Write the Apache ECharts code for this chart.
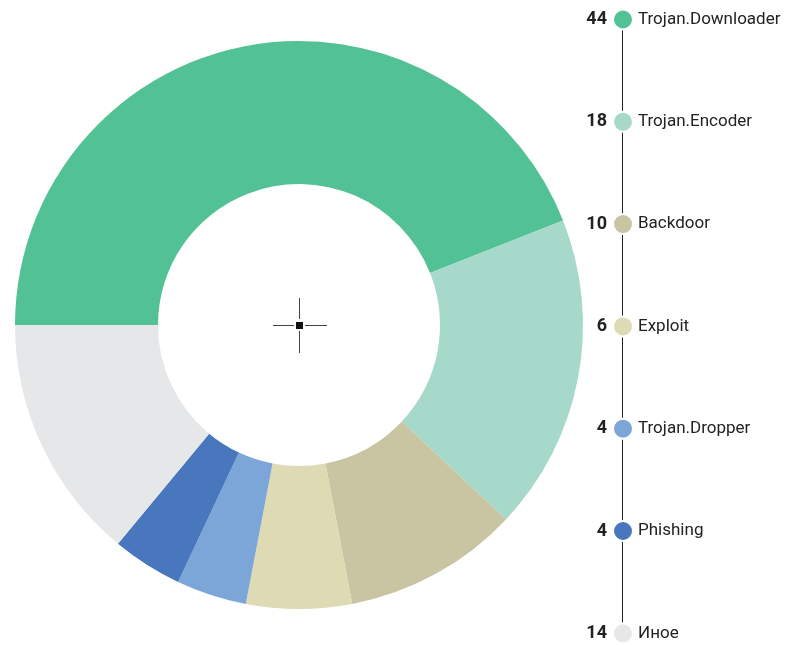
<!DOCTYPE html>
<html>
<head>
<meta charset="utf-8">
<script src="https://cdn.jsdelivr.net/npm/echarts@6/dist/echarts.min.js"></script>
<style>
  html, body { margin: 0; padding: 0; background: #fff; }
  #chart { width: 805px; height: 645px; }
</style>
</head>
<body>
<div id="chart"></div>
<script>
const names = ["Trojan.Downloader", "Trojan.Encoder", "Backdoor", "Exploit", "Trojan.Dropper", "Phishing", "Иное"];
const values = [44, 18, 10, 6, 4, 4, 14];
const colors = ["#52c195", "#a7d9ca", "#c9c5a3", "#dedab3", "#7da6d8", "#4877bd", "#e6e7e9"];

var chart = echarts.init(document.getElementById("chart"));

const pieData = names.map((n, i) => ({
  name: n,
  value: values[i],
  itemStyle: { color: colors[i] },
}));

const fontFamily = "Roboto, 'Noto Sans', sans-serif";

const option = {
  animation: false,
  legend: [
    {
      data: names,
      orient: "vertical",
      left: 612,
      top: 8.5,
      height: 640,
      padding: 0,
      itemWidth: 20,
      itemHeight: 20,
      itemGap: 80.3,
      icon: "circle",
      selectedMode: false,
      itemStyle: { borderColor: "#fff", borderWidth: 2 },
      textStyle: { fontFamily: fontFamily, fontSize: 17, lineHeight: 18, color: "#222" },
    },
    {
      data: names,
      orient: "vertical",
      align: "right",
      right: 173,
      top: 9.5,
      height: 636,
      padding: 0,
      itemWidth: 20,
      itemHeight: 20,
      itemGap: 82.3,
      icon: "circle",
      selectedMode: false,
      itemStyle: { opacity: 0 },
      formatter: function (name) {
        return String(values[names.indexOf(name)]);
      },
      textStyle: {
        fontFamily: fontFamily,
        fontSize: 18,
        lineHeight: 18,
        fontWeight: "bold",
        color: "#222",
      },
    },
  ],
  graphic: [
    {
      type: "line",
      z: -1,
      shape: { x1: 622.5, y1: 19, x2: 622.5, y2: 632 },
      style: { stroke: "#222", lineWidth: 1 },
    },
    // crosshair in the middle
    { type: "line", shape: { x1: 273, y1: 325.5, x2: 294, y2: 325.5 }, style: { stroke: "#444", lineWidth: 1 } },
    { type: "line", shape: { x1: 305, y1: 325.5, x2: 327, y2: 325.5 }, style: { stroke: "#444", lineWidth: 1 } },
    { type: "line", shape: { x1: 299.5, y1: 298, x2: 299.5, y2: 319 }, style: { stroke: "#444", lineWidth: 1 } },
    { type: "line", shape: { x1: 299.5, y1: 331, x2: 299.5, y2: 353 }, style: { stroke: "#444", lineWidth: 1 } },
    { type: "rect", shape: { x: 296, y: 322, width: 7, height: 7 }, style: { fill: "#111" } },
  ],
  series: [
    {
      type: "pie",
      center: [299, 325],
      radius: [141, 284],
      startAngle: 180,
      clockwise: true,
      silent: true,
      label: { show: false },
      labelLine: { show: false },
      data: pieData,
    },
  ],
};
chart.setOption(option);
</script>
</body>
</html>
